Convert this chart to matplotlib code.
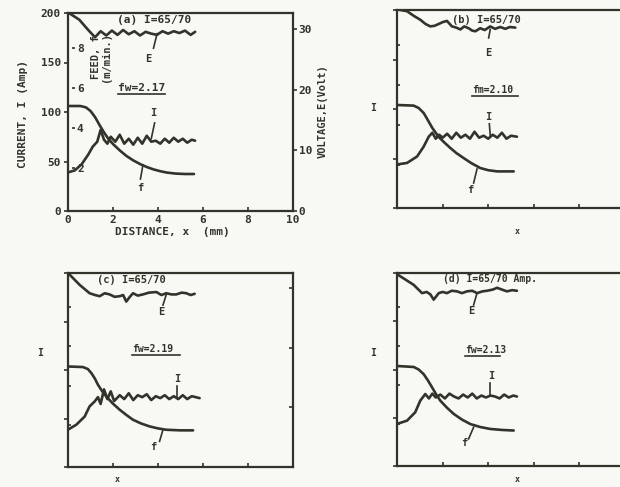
import matplotlib
matplotlib.use('Agg')
import matplotlib.pyplot as plt

# ---------------- data ----------------
# panel (a)
aE_x = [0.0, 0.5, 0.9, 1.2, 1.45, 1.7, 1.95, 2.2, 2.45, 2.7, 2.95, 3.2, 3.45, 3.7, 3.95, 4.2, 4.45, 4.7, 4.95, 5.2, 5.45, 5.65]
aE_v = [32.7, 31.5, 29.8, 28.6, 29.6, 28.9, 29.7, 29.0, 29.8, 29.1, 29.6, 28.9, 29.5, 29.2, 29.0, 29.6, 29.2, 29.6, 29.3, 29.7, 29.0, 29.5]
aI_x = [0.0, 0.3, 0.6, 0.9, 1.1, 1.3, 1.45, 1.6, 1.75, 1.9, 2.1, 2.3, 2.5, 2.7, 2.9, 3.1, 3.3, 3.5, 3.7, 3.9, 4.1, 4.3, 4.5, 4.7, 4.9, 5.1, 5.3, 5.5, 5.65]
aI_c = [39, 41, 47, 57, 65, 70, 82, 72, 68, 75, 70, 77, 68, 73, 67, 74, 68, 76, 70, 71, 68, 73, 69, 74, 70, 73, 69, 72, 71]
af_x = [0.0, 0.55, 0.8, 1.0, 1.2, 1.4, 1.6, 1.8, 2.0, 2.3, 2.6, 2.9, 3.2, 3.5, 3.8, 4.1, 4.4, 4.8, 5.2, 5.6]
af_f = [5.1, 5.1, 5.03, 4.85, 4.55, 4.15, 3.78, 3.45, 3.2, 2.88, 2.6, 2.38, 2.2, 2.05, 1.93, 1.84, 1.77, 1.72, 1.7, 1.7]

# panel (b)
bE_x = [0.0, 0.44, 0.75, 1.02, 1.25, 1.46, 1.65, 1.83, 2.0, 2.19, 2.41, 2.6, 2.78, 2.95, 3.14, 3.3, 3.44, 3.65, 3.85, 4.09, 4.3, 4.53, 4.75, 4.95, 5.19]
bE_v = [32.7, 32.4, 31.6, 31.0, 30.3, 29.9, 30.0, 30.3, 30.6, 30.8, 29.9, 29.7, 29.4, 29.9, 29.6, 29.2, 29.1, 29.6, 29.3, 29.9, 29.5, 29.8, 29.5, 29.8, 29.7]
bI_x = [0.0, 0.44, 0.88, 1.17, 1.39, 1.55, 1.7, 1.85, 2.0, 2.2, 2.4, 2.6, 2.8, 3.0, 3.2, 3.4, 3.6, 3.8, 4.0, 4.2, 4.4, 4.6, 4.8, 5.0, 5.26]
bI_c = [44, 45.5, 52, 62, 72, 76, 70, 74, 71, 75, 70, 76, 71, 74, 70, 77, 71, 73, 70, 74, 71, 76, 70, 73, 72]
bf_x = [0.0, 0.73, 0.95, 1.17, 1.35, 1.55, 1.83, 2.1, 2.34, 2.6, 2.92, 3.25, 3.65, 4.0, 4.4, 5.12]
bf_f = [5.0, 4.97, 4.85, 4.6, 4.25, 3.85, 3.4, 3.1, 2.85, 2.6, 2.35, 2.1, 1.85, 1.74, 1.68, 1.68]

# panel (c)
cE_x = [0.0, 0.52, 0.96, 1.2, 1.41, 1.63, 1.85, 2.07, 2.3, 2.45, 2.59, 2.75, 2.89, 3.1, 3.33, 3.6, 3.93, 4.15, 4.37, 4.6, 4.81, 5.05, 5.26, 5.45, 5.63]
cE_v = [32.6, 30.6, 29.2, 28.9, 28.7, 29.2, 29.0, 28.6, 28.7, 28.9, 27.8, 28.6, 29.2, 28.8, 29.0, 29.3, 29.4, 28.9, 29.2, 29.0, 29.0, 29.3, 29.2, 28.9, 29.1]
cI_x = [0.0, 0.37, 0.74, 0.96, 1.19, 1.33, 1.45, 1.6, 1.75, 1.9, 2.05, 2.3, 2.5, 2.7, 2.9, 3.1, 3.3, 3.5, 3.7, 3.9, 4.1, 4.3, 4.5, 4.7, 4.9, 5.1, 5.3, 5.5, 5.85]
cI_c = [38.5, 43.6, 52, 62.5, 67.7, 72, 65, 80, 70, 78, 68, 74, 70, 76, 69, 74, 72, 75, 69, 73, 71, 74, 70, 73, 70, 74, 70, 73, 71]
cf_x = [0.0, 0.67, 0.88, 1.04, 1.2, 1.33, 1.5, 1.7, 2.0, 2.3, 2.6, 2.89, 3.25, 3.63, 4.0, 4.37, 5.0, 5.56]
cf_f = [4.98, 4.95, 4.85, 4.64, 4.35, 4.05, 3.75, 3.45, 3.08, 2.77, 2.5, 2.26, 2.07, 1.92, 1.82, 1.75, 1.72, 1.72]

# panel (d)
dE_x = [0.0, 0.73, 1.1, 1.3, 1.46, 1.61, 1.83, 2.0, 2.19, 2.4, 2.63, 2.85, 3.07, 3.3, 3.51, 3.75, 3.95, 4.2, 4.39, 4.6, 4.82, 5.05, 5.26]
dE_v = [32.4, 30.6, 29.2, 29.4, 29.0, 28.1, 29.2, 29.4, 29.2, 29.6, 29.5, 29.2, 29.5, 29.6, 29.2, 29.5, 29.6, 29.8, 30.1, 29.8, 29.5, 29.7, 29.6]
dI_x = [0.0, 0.44, 0.8, 1.02, 1.24, 1.4, 1.55, 1.7, 1.9, 2.1, 2.3, 2.5, 2.7, 2.9, 3.1, 3.3, 3.5, 3.7, 3.9, 4.1, 4.3, 4.5, 4.7, 4.9, 5.1, 5.26]
dI_c = [43.6, 47, 55.7, 67.7, 74.6, 70, 75, 71, 74, 70, 75, 72, 70, 74, 71, 75, 70, 73, 71, 73, 72, 70, 74, 71, 73, 72]
df_x = [0.0, 0.73, 0.95, 1.17, 1.35, 1.54, 1.72, 1.9, 2.2, 2.49, 2.85, 3.22, 3.65, 4.09, 4.6, 5.12]
df_f = [4.98, 4.93, 4.8, 4.56, 4.25, 3.88, 3.52, 3.2, 2.83, 2.52, 2.23, 2.0, 1.85, 1.75, 1.7, 1.67]

x_ticks = [0, 2, 4, 6, 8, 10]
current_ticks = [0, 50, 100, 150, 200]
voltage_ticks = [0, 10, 20, 30]
feed_ticks = [2, 4, 6, 8]

# ---------------- style ----------------
W, H = 620, 487
INK = '#33332b'
BG = '#f8f8f4'
plt.rcParams['font.family'] = ['DejaVu Sans Mono']
plt.rcParams['font.weight'] = 'bold'
plt.rcParams['font.size'] = 8
plt.rcParams['text.color'] = INK
plt.rcParams['xtick.color'] = INK
plt.rcParams['ytick.color'] = INK

fig = plt.figure(figsize=(W / 100, H / 100), dpi=100, facecolor=BG)


def ftext(px, py, s, **kw):
    kw.setdefault('ha', 'left')
    kw.setdefault('va', 'center')
    fig.text(px / W, 1 - py / H, s, **kw)


def panel(l, r, t, b, E_x, E_v, I_x, I_c, f_x, f_f, labels, right_dir='out'):
    ax = fig.add_axes([l / W, 1 - b / H, (r - l) / W, (b - t) / H])
    ax.set_facecolor('none')
    ax.set_xlim(0, 10)
    ax.set_ylim(0, 200)
    axv = ax.twinx()
    axv.set_ylim(0, 32.6)
    axf = ax.twinx()
    axf.set_ylim(-0.15, 9.75)

    for s in ax.spines.values():
        s.set_linewidth(1.6)
        s.set_color(INK)
    for name, s in axv.spines.items():
        s.set_visible(False)
    for name, s in axf.spines.items():
        s.set_visible(False)
    axf.spines['right'].set_position(('axes', 0.018 if labels else 0.0))

    ax.set_xticks(x_ticks)
    ax.set_yticks(current_ticks)
    axv.set_yticks(voltage_ticks)
    axf.set_yticks(feed_ticks)
    ax.tick_params(axis='x', direction='in', length=3, width=1.2, pad=3,
                   labelbottom=labels, labelsize=8)
    ax.tick_params(axis='y', direction='out', length=3, width=1.2, pad=2,
                   labelleft=labels, labelsize=8, right=False)
    axv.tick_params(axis='y', direction=right_dir, length=3, width=1.2, pad=1,
                    labelright=labels, labelsize=8)
    axf.tick_params(axis='y', direction='out', length=2.5, width=1.2, pad=1,
                    labelright=labels, labelsize=8)

    lw = 1.9
    ax.plot(I_x, I_c, color=INK, lw=lw, solid_joinstyle='round', solid_capstyle='round')
    axv.plot(E_x, E_v, color=INK, lw=lw, solid_joinstyle='round', solid_capstyle='round')
    axf.plot(f_x, f_f, color=INK, lw=lw, solid_joinstyle='round', solid_capstyle='round')
    return ax, axv, axf


def leader(a, x0, y0, x1, y1, label, lx, ly):
    a.plot([x0, x1], [y0, y1], color=INK, lw=1.2)
    a.text(lx, ly, label, ha='center', va='center', fontsize=7.5)


# ---------------- panel (a) ----------------
ax, axv, axf = panel(68, 293, 13, 211, aE_x, aE_v, aI_x, aI_c, af_x, af_f, True)
leader(axv, 3.96, 29.2, 3.8, 26.8, 'E', 3.55, 25.0)
leader(ax, 3.7, 73, 3.85, 89, 'I', 3.8, 99)
leader(axf, 3.33, 2.15, 3.22, 1.45, 'f', 3.2, 1.0)
ftext(117, 20, '(a) I=65/70')
ftext(118, 88, 'fw=2.17')
fig.add_artist(plt.Line2D([118 / W, 165 / W], [1 - 94 / H, 1 - 94 / H], color=INK, lw=1.2))
ftext(101, 57, 'FEED, f\n(m/min.)', rotation=90, ha='center', fontsize=7.5, linespacing=1.1)
ftext(23, 114, 'CURRENT, I (Amp)', rotation=90, ha='center', fontsize=8)
ftext(323, 111, 'VOLTAGE,E(Volt)', rotation=90, ha='center', fontsize=7.5)
ftext(172, 232, 'DISTANCE, x  (mm)', ha='center', fontsize=8)

# ---------------- panel (b) ----------------
ax, axv, axf = panel(397, 625, 10, 208, bE_x, bE_v, bI_x, bI_c, bf_x, bf_f, False)
leader(axv, 4.09, 29.4, 4.02, 28.0, 'E', 4.0, 25.6)
leader(ax, 4.09, 73, 4.05, 85, 'I', 4.0, 92)
leader(axf, 3.51, 1.8, 3.36, 1.1, 'f', 3.2, 0.75)
ftext(452, 20, '(b) I=65/70', fontsize=7.5)
ftext(472, 90, 'fm=2.10', fontsize=7)
fig.add_artist(plt.Line2D([472 / W, 518 / W], [1 - 96 / H, 1 - 96 / H], color=INK, lw=1.2))
ftext(373, 108, 'I', ha='center', fontsize=7)
ftext(517, 232, 'x', ha='center', fontsize=6)

# ---------------- panel (c) ----------------
ax, axv, axf = panel(68, 293, 273, 467, cE_x, cE_v, cI_x, cI_c, cf_x, cf_f, False, right_dir='in')
leader(axv, 4.37, 29.0, 4.22, 27.2, 'E', 4.15, 26.0)
leader(ax, 4.84, 72, 4.84, 84, 'I', 4.84, 91)
leader(axf, 4.22, 1.75, 4.07, 1.16, 'f', 3.8, 0.85)
ftext(97, 280, '(c) I=65/70', fontsize=7.5)
ftext(132, 349, 'fw=2.19', fontsize=7)
fig.add_artist(plt.Line2D([132 / W, 180 / W], [1 - 355 / H, 1 - 355 / H], color=INK, lw=1.2))
ftext(40, 353, 'I', ha='center', fontsize=7)
ftext(117, 480, 'x', ha='center', fontsize=6)

# ---------------- panel (d) ----------------
ax, axv, axf = panel(397, 625, 273, 466, dE_x, dE_v, dI_x, dI_c, df_x, df_f, False)
leader(axv, 3.51, 29.2, 3.36, 27.2, 'E', 3.25, 26.2)
leader(ax, 4.09, 73, 4.09, 86, 'I', 4.12, 93)
leader(axf, 3.36, 1.84, 3.14, 1.24, 'f', 2.95, 1.05)
ftext(443, 279, '(d) I=65/70 Amp.', fontsize=7)
ftext(465, 350, 'fw=2.13', fontsize=7)
fig.add_artist(plt.Line2D([465 / W, 500 / W], [1 - 356 / H, 1 - 356 / H], color=INK, lw=1.2))
ftext(373, 353, 'I', ha='center', fontsize=7)
ftext(517, 480, 'x', ha='center', fontsize=6)

fig.savefig('out.png', dpi=100, facecolor=BG)
